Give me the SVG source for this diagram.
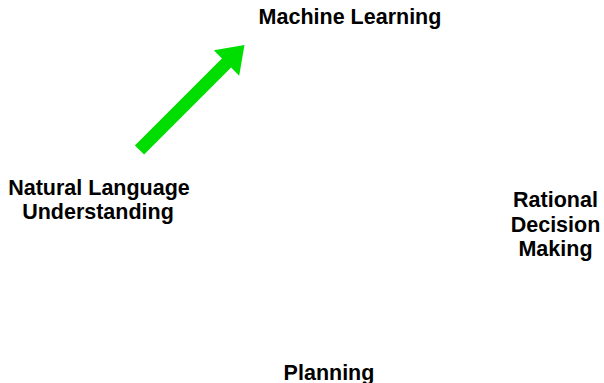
<svg xmlns="http://www.w3.org/2000/svg" width="604" height="383" viewBox="0 0 604 383">
  <style>
    .label { font-family: "Liberation Sans", Arial, Helvetica, sans-serif; font-weight: bold; font-size: 21.5px; fill: #000; text-anchor: middle; }
  </style>
  <rect width="604" height="383" fill="#fff"/>
  <g id="connectors">
    <path d="M134.9,145.4 L221.9,58.4 L213.8,50.3 L244.5,45 L239.2,75.7 L231.1,67.6 L144.1,154.6 Z" fill="#00dd00"/>
  </g>
  <g id="node-machine-learning">
    <text class="label" x="350" y="23.5">Machine Learning</text>
  </g>
  <g id="node-nlu">
    <text class="label" x="99" y="194.5">Natural Language</text>
    <text class="label" x="98" y="219">Understanding</text>
  </g>
  <g id="node-rational-decision-making">
    <text class="label" x="555.5" y="207">Rational</text>
    <text class="label" x="555.5" y="231.5">Decision</text>
    <text class="label" x="555.5" y="256">Making</text>
  </g>
  <g id="node-planning">
    <text class="label" x="329" y="379.5">Planning</text>
  </g>
</svg>
